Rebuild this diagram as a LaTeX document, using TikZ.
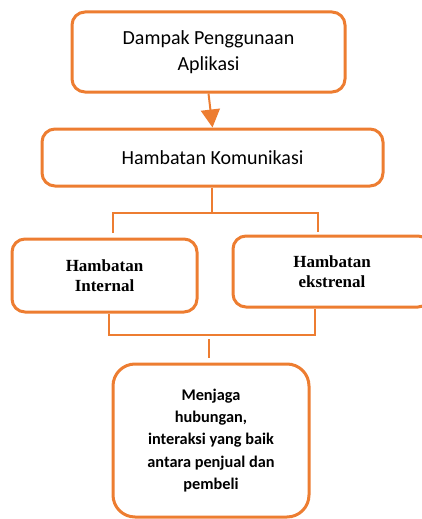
\documentclass[tikz,border=0pt]{standalone}
\usepackage{fontspec}
\setmainfont{Carlito}
\newfontfamily\serifbold{Liberation Serif}[BoldFont={Liberation Serif Bold}]
\usetikzlibrary{arrows.meta}
\definecolor{org}{HTML}{ED7D31}
\tikzset{
  box/.style={draw=org, line width=3pt, fill=white, rounded corners=13pt, align=center, inner sep=0pt},
  conn/.style={draw=org, line width=2pt},
}
\begin{document}
\begin{tikzpicture}[x=1pt,y=-1pt]
\useasboundingbox (0,0) rectangle (422,519);
\begin{scope}
\clip (0,0) rectangle (422,519);
\node[box, minimum width=273pt, minimum height=80pt, font=\fontsize{20}{26}\selectfont] (b1) at (208.5,52) {Dampak Penggunaan\\Aplikasi};
\node[box, minimum width=341pt, minimum height=57pt, font=\fontsize{20}{22}\selectfont] (b2) at (212.5,157.5) {Hambatan Komunikasi};
\node[box, minimum width=185pt, minimum height=73pt, font=\serifbold\bfseries\fontsize{17}{20}\selectfont] (b3) at (104.5,275.5) {Hambatan\\Internal};
\node[box, minimum width=198pt, minimum height=71pt, font=\serifbold\bfseries\fontsize{17}{20}\selectfont] (b4) at (332,271.5) {Hambatan\\ekstrenal};
\node[box, rounded corners=22pt, minimum width=196pt, minimum height=153pt, font=\bfseries\fontsize{16.3}{22.3}\selectfont] (b5) at (211,440.5) {Menjaga\\hubungan,\\interaksi yang baik\\antara penjual dan\\pembeli};
\end{scope}
\draw[conn, -{Triangle[width=19pt,length=18pt]}] (b1.south) -- (b2.north);
\coordinate (s1) at (212,213);
\coordinate (l1) at (113,213);
\coordinate (r1) at (318,213);
\coordinate (l1e) at (113,233);
\coordinate (r1e) at (318,232);
\draw[conn] (b2.south -| s1) -- (s1);
\draw[conn] (l1e) -- (l1) -- (r1) -- (r1e);
\coordinate (l2) at (109,335);
\coordinate (r2) at (315,335);
\draw[conn] (b3.south -| l2) -- (l2) -- (r2) -- (b4.south -| r2);
\coordinate (m2a) at (209,339);
\coordinate (m2b) at (209,358);
\draw[conn] (m2a) -- (m2b);
\end{tikzpicture}
\end{document}
